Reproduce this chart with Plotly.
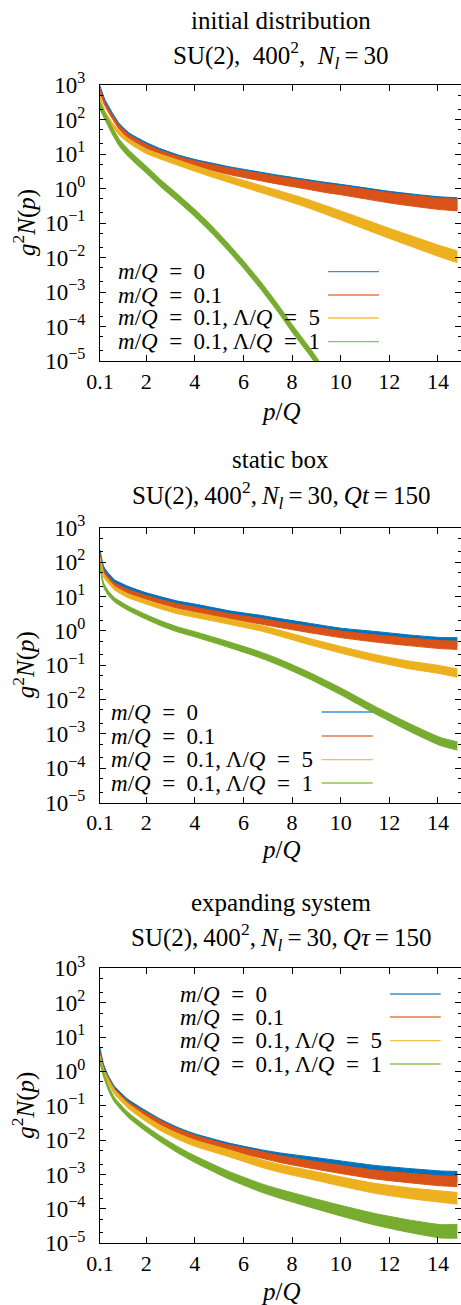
import numpy as np
import plotly.graph_objects as go

# ---------------- data (log10 of g^2 N(p)) ----------------
p_init = [0.1, 0.3, 0.6, 0.9, 1.3, 2, 2.6, 3.3, 4, 4.7, 5.4, 6, 6.7, 7.4, 8, 8.7, 9.3,
          10, 11, 12, 13, 14, 14.8]
init_m0 = [2.92, 2.53, 2.15, 1.82, 1.55, 1.27, 1.08, 0.90, 0.76, 0.65, 0.54, 0.46, 0.37,
           0.28, 0.21, 0.13, 0.06, -0.01, -0.12, -0.23, -0.32, -0.40, -0.44]
init_m01 = [2.85, 2.45, 2.08, 1.76, 1.50, 1.22, 1.03, 0.86, 0.72, 0.61, 0.50, 0.42, 0.33,
            0.24, 0.17, 0.09, 0.02, -0.05, -0.16, -0.27, -0.36, -0.44, -0.48]
init_l5 = [2.65, 2.20, 1.86, 1.60, 1.37, 1.08, 0.92, 0.75, 0.58, 0.42, 0.27, 0.14, -0.01,
           -0.16, -0.29, -0.45, -0.60, -0.78, -1.04, -1.30, -1.55, -1.80, -1.98]
init_l1 = [2.40, 2.10, 1.68, 1.32, 1.00, 0.55, 0.15, -0.27, -0.71, -1.19, -1.72, -2.20,
           -2.80, -3.45, -4.05, -4.70, -5.30, -6.0, -7.0, -8.0, -9.0, -10.0, -10.8]

p_box = [0.1, 0.25, 0.45, 0.7, 1.25, 1.95, 2.6, 3.3, 4, 5.4, 6.7, 7.5, 8.7, 10, 11.4,
         12.8, 14.1, 14.8]
box_m0 = [2.30, 1.82, 1.62, 1.43, 1.24, 1.06, 0.93, 0.80, 0.71, 0.51, 0.37, 0.27, 0.13,
          -0.02, -0.12, -0.23, -0.31, -0.32]
box_m01 = [2.20, 1.72, 1.52, 1.34, 1.15, 0.98, 0.85, 0.72, 0.62, 0.43, 0.28, 0.18, 0.04,
           -0.10, -0.22, -0.32, -0.40, -0.42]
box_l5 = [2.10, 1.62, 1.43, 1.24, 1.02, 0.85, 0.70, 0.56, 0.46, 0.27, 0.08, -0.07, -0.31,
          -0.55, -0.79, -0.99, -1.13, -1.23]
box_l1 = [1.90, 1.33, 1.09, 0.90, 0.66, 0.42, 0.22, 0.04, -0.10, -0.40, -0.70, -0.92,
          -1.30, -1.76, -2.30, -2.80, -3.22, -3.35]

p_exp = [0.1, 0.25, 0.45, 0.7, 1.25, 1.95, 2.6, 3.3, 4, 5.4, 6.7, 7.5, 8.7, 10, 11.4,
         12.8, 14.1, 14.8]
exp_m0 = [0.63, 0.15, -0.19, -0.49, -0.87, -1.19, -1.46, -1.70, -1.89, -2.17, -2.37,
          -2.47, -2.59, -2.72, -2.86, -2.96, -3.04, -3.06]
exp_m01 = [0.50, 0.05, -0.25, -0.55, -0.93, -1.24, -1.50, -1.74, -1.93, -2.22, -2.42,
           -2.55, -2.70, -2.85, -3.00, -3.10, -3.18, -3.20]
exp_l5 = [0.40, 0.00, -0.30, -0.60, -1.00, -1.36, -1.65, -1.89, -2.09, -2.38, -2.67,
          -2.82, -3.00, -3.20, -3.40, -3.54, -3.64, -3.69]
exp_l1 = [0.30, -0.10, -0.49, -0.83, -1.26, -1.65, -1.97, -2.28, -2.55, -3.02, -3.38,
          -3.56, -3.80, -4.05, -4.30, -4.50, -4.65, -4.65]

# half-width of the noise band (decades) at first / last point, per series
init_spread = [(0.05, 0.17), (0.05, 0.17), (0.05, 0.17), (0.10, 0.12)]
box_spread = [(0.05, 0.12), (0.05, 0.12), (0.05, 0.12), (0.06, 0.12)]
exp_spread = [(0.05, 0.15), (0.05, 0.15), (0.06, 0.17), (0.06, 0.20)]

SP = "&nbsp;"
series_names = ["<i>m</i>/<i>Q</i>" + SP * 2 + "=" + SP * 2 + "0",
                "<i>m</i>/<i>Q</i>" + SP * 2 + "=" + SP * 2 + "0.1",
                "<i>m</i>/<i>Q</i>" + SP * 2 + "=" + SP * 2 + "0.1,&#8201;Λ/<i>Q</i>"
                + SP * 2 + "=" + SP * 2 + "5",
                "<i>m</i>/<i>Q</i>" + SP * 2 + "=" + SP * 2 + "0.1,&#8201;Λ/<i>Q</i>"
                + SP * 2 + "=" + SP * 2 + "1"]
colors = ["#0072BD", "#D95319", "#EDB120", "#77AC30"]
legend_colors = ["#3d8fd0", "#e27a4e", "#f0c04a", "#90c05a"]

x_ticks = [0.1, 2, 4, 6, 8, 10, 12, 14]
x_ticktext = ["0.1", "2", "4", "6", "8", "10", "12", "14"]
y_exps = [-5, -4, -3, -2, -1, 0, 1, 2, 3]

titles = [("initial distribution",
           "SU(2)," + SP * 2 + "400<sup>2</sup>," + SP * 2 + "<i>N<sub>l</sub></i>&#8201;=&#8201;30"),
          ("static box",
           "SU(2),&#8201;400<sup>2</sup>,&#8201;<i>N<sub>l</sub></i>&#8201;=&#8201;30,&#8201;<i>Qt</i>&#8201;=&#8201;150"),
          ("expanding system",
           "SU(2),&#8201;400<sup>2</sup>,&#8201;<i>N<sub>l</sub></i>&#8201;=&#8201;30,&#8201;<i>Qτ</i>&#8201;=&#8201;150")]

# ---------------- layout geometry (pixels) ----------------
W, H = 461, 1305
FONT = "Liberation Serif"
FS_TICK = 22
FS_TITLE = 25
FS_LEG = 23
plot_left, plot_right = 100, 461
panels = [
    dict(p=p_init, data=[init_m0, init_m01, init_l5, init_l1], spread=init_spread,
         top=85, bot=361, t1=20, t2=55, xt=412,
         leg_text_x=117, leg_line=(328, 379), leg_y=[271.7, 295, 318, 341.7]),
    dict(p=p_box, data=[box_m0, box_m01, box_l5, box_l1], spread=box_spread,
         top=527.7, bot=802.7, t1=460, t2=495, xt=849,
         leg_text_x=110, leg_line=(321.7, 372.7), leg_y=[712, 736, 759.7, 783]),
    dict(p=p_exp, data=[exp_m0, exp_m01, exp_l5, exp_l1], spread=exp_spread,
         top=968.3, bot=1243.3, t1=902, t2=937, xt=1291,
         leg_text_x=179, leg_line=(390, 440.7), leg_y=[994, 1017, 1040.7, 1064]),
]

fig = go.Figure()
annotations = []
shapes = []


def py(y):
    return 1 - y / H


def px(x):
    return x / W


for k, pan in enumerate(panels):
    sfx = "" if k == 0 else str(k + 1)
    xa, ya = "x" + sfx, "y" + sfx
    p = np.array(pan["p"], dtype=float)
    for j, (vals, col) in enumerate(zip(pan["data"], colors)):
        c = np.array(vals, dtype=float)
        s0, s1 = pan["spread"][j]
        hw = s0 + (s1 - s0) * (p - p[0]) / (p[-1] - p[0])
        up = 10 ** (c + hw)
        lo = 10 ** (c - hw)
        fig.add_trace(go.Scatter(x=p, y=up, mode="lines",
                                 line=dict(color=col, width=1, shape="spline", smoothing=0.5),
                                 xaxis=xa, yaxis=ya, showlegend=False, hoverinfo="skip"))
        fig.add_trace(go.Scatter(x=p, y=lo, mode="lines",
                                 line=dict(color=col, width=1, shape="spline", smoothing=0.5),
                                 fill="tonexty", fillcolor=col, xaxis=xa, yaxis=ya,
                                 showlegend=False, name=series_names[j]))
    axis_common = dict(showline=True, linecolor="black", linewidth=1.3, mirror="allticks",
                       ticks="inside", ticklen=6, tickwidth=1, tickcolor="black",
                       showgrid=False, zeroline=False, automargin=False,
                       tickfont=dict(family=FONT, size=FS_TICK, color="black"))
    dom_y = [py(pan["bot"]), py(pan["top"])]
    fig.layout["xaxis" + sfx] = dict(axis_common, domain=[px(plot_left), 1.0],
                                     range=[0.1, 14.95], tickmode="array",
                                     tickvals=x_ticks, ticktext=x_ticktext,
                                     ticklabelstandoff=0, anchor=ya)
    fig.layout["yaxis" + sfx] = dict(axis_common, domain=dom_y, type="log",
                                     range=[-5, 3], tickmode="array",
                                     tickvals=[10.0 ** e for e in y_exps],
                                     ticktext=["10<sup>%s</sup>" % (str(e).replace("-", "−"))
                                               for e in y_exps],
                                     tickfont=dict(family=FONT, size=23, color="black"),
                                     minor=dict(ticks="inside", ticklen=3, tickcolor="black",
                                                dtick="D2"),
                                     ticklabelstandoff=9,
                                     anchor=xa)
    cx = px((plot_left + plot_right) / 2)
    annotations.append(dict(text=titles[k][0], x=cx, y=py(pan["t1"]), xref="paper",
                            yref="paper", showarrow=False, xanchor="center",
                            yanchor="middle", font=dict(family=FONT, size=FS_TITLE)))
    annotations.append(dict(text=titles[k][1], x=cx, y=py(pan["t2"]), xref="paper",
                            yref="paper", showarrow=False, xanchor="center",
                            yanchor="middle", font=dict(family=FONT, size=FS_TITLE)))
    annotations.append(dict(text="<i>p</i>/<i>Q</i>", x=cx, y=py(pan["xt"]), xref="paper",
                            yref="paper", showarrow=False, xanchor="center",
                            yanchor="middle", font=dict(family=FONT, size=FS_TITLE)))
    annotations.append(dict(text="<i>g</i><sup>2</sup><i>N</i>(<i>p</i>)", x=px(24),
                            y=py((pan["top"] + pan["bot"]) / 2), xref="paper",
                            yref="paper", showarrow=False, textangle=-90,
                            xanchor="center", yanchor="middle",
                            font=dict(family=FONT, size=FS_TITLE)))
    for j in range(4):
        yl = py(pan["leg_y"][j])
        annotations.append(dict(text=series_names[j], x=px(pan["leg_text_x"]), y=yl,
                                xref="paper", yref="paper", showarrow=False,
                                xanchor="left", yanchor="middle", borderpad=0,
                                font=dict(family=FONT, size=FS_LEG)))
        shapes.append(dict(type="line", xref="paper", yref="paper",
                           x0=px(pan["leg_line"][0]), x1=px(pan["leg_line"][1]),
                           y0=yl, y1=yl, line=dict(color=legend_colors[j], width=1.3)))

fig.update_layout(width=W, height=H,
                  margin=dict(l=0, r=0, t=0, b=0, pad=0, autoexpand=False),
                  paper_bgcolor="white", plot_bgcolor="white",
                  annotations=annotations, shapes=shapes, showlegend=False,
                  font=dict(family=FONT, size=FS_TICK, color="black"))
fig.write_html("out.html", config={"displayModeBar": False},
               post_script="document.body.style.margin='0px';document.body.style.padding='0px';")
